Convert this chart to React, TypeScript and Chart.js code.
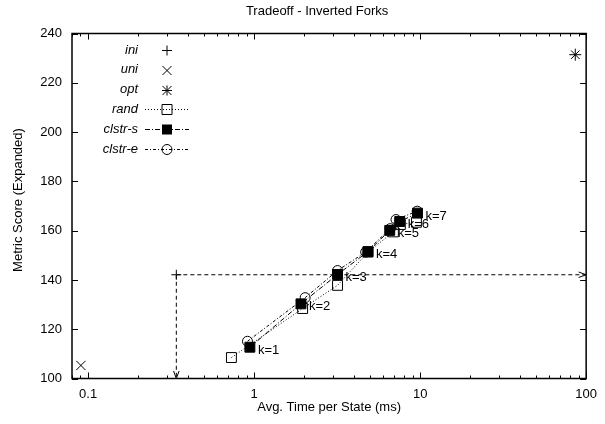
import React, { useEffect, useRef } from 'react';
import { Chart, registerables } from 'chart.js';

Chart.register(...registerables);

const TITLE = 'Tradeoff - Inverted Forks';
const X_TITLE = 'Avg. Time per State (ms)';
const Y_TITLE = 'Metric Score (Expanded)';

const xTickValues = [0.1, 1, 10, 100];
const yTickValues = [100, 120, 140, 160, 180, 200, 220, 240];
const kLabels = ['k=1', 'k=2', 'k=3', 'k=4', 'k=5', 'k=6', 'k=7'];
const seriesNames = ['ini', 'uni', 'opt', 'rand', 'clstr-s', 'clstr-e'];

const iniX = [0.34];
const iniY = [142.1];
const uniX = [0.0905];
const uniY = [105.3];
const optX = [86];
const optY = [231.4];

const randX = [0.73, 1.96, 3.18, 4.85, 6.9, 7.6, 9.5];
const randY = [108.5, 128.4, 137.8, 151.3, 159.5, 162.5, 163.4];
const clstrSX = [0.943, 1.915, 3.18, 4.85, 6.56, 7.53, 9.64];
const clstrSY = [112.7, 130.3, 142.2, 151.5, 160.1, 163.7, 167.1];
const clstrEX = [0.912, 2.03, 3.18, 4.7, 6.6, 7.16, 9.6];
const clstrEY = [115.1, 132.8, 143.8, 151.3, 160.8, 164.5, 167.9];

const FONT = '"Liberation Sans", Arial, Helvetica, sans-serif';
const FS = 13;

const pts = (xs: number[], ys: number[]) => xs.map((v, i) => ({ x: v, y: ys[i] }));

function drawSymbol(ctx: CanvasRenderingContext2D, kind: string, cx: number, cy: number) {
  ctx.beginPath();
  if (kind === 'cross' || kind === 'star') {
    ctx.moveTo(cx - 5, cy); ctx.lineTo(cx + 5, cy);
    ctx.moveTo(cx, cy - 5); ctx.lineTo(cx, cy + 5);
  }
  if (kind === 'crossRot' || kind === 'star') {
    ctx.moveTo(cx - 4.5, cy - 4.5); ctx.lineTo(cx + 4.5, cy + 4.5);
    ctx.moveTo(cx - 4.5, cy + 4.5); ctx.lineTo(cx + 4.5, cy - 4.5);
  }
  if (kind === 'rect' || kind === 'rectFill') {
    if (kind === 'rectFill') ctx.fillRect(cx - 5, cy - 5, 10, 10);
    else ctx.rect(cx - 5, cy - 5, 10, 10);
  }
  if (kind === 'circle') ctx.arc(cx, cy, 5, 0, Math.PI * 2);
  ctx.stroke();
}

const gnuplotPlugin = {
  id: 'gnuplotDecor',
  afterDatasetsDraw(chart: any) {
    const { ctx, chartArea: a, scales } = chart;
    const x = scales.x, y = scales.y;
    ctx.save();
    ctx.strokeStyle = '#000';
    ctx.fillStyle = '#000';
    ctx.lineWidth = 1;

    // arrows from ini point
    const ix = x.getPixelForValue(iniX[0]);
    const iy = y.getPixelForValue(iniY[0]);
    const ex = x.getPixelForValue(x.max);
    const ey = y.getPixelForValue(y.min);
    ctx.setLineDash([4, 3]);
    ctx.beginPath();
    ctx.moveTo(ix, iy); ctx.lineTo(ex, iy);
    ctx.moveTo(ix, iy); ctx.lineTo(ix, ey);
    ctx.stroke();
    ctx.setLineDash([]);
    const head = (tx: number, ty: number, ang: number) => {
      const L = 8, s = 0.35;
      ctx.beginPath();
      ctx.moveTo(tx - L * Math.cos(ang - s), ty - L * Math.sin(ang - s));
      ctx.lineTo(tx, ty);
      ctx.lineTo(tx - L * Math.cos(ang + s), ty - L * Math.sin(ang + s));
      ctx.stroke();
    };
    head(ex, iy, 0);
    head(ix, ey, Math.PI / 2);

    // k labels next to clstr-s points
    ctx.font = `${FS}px ${FONT}`;
    ctx.textAlign = 'left';
    ctx.textBaseline = 'middle';
    kLabels.forEach((t, i) => {
      const px = x.getPixelForValue(clstrSX[i]);
      const py = y.getPixelForValue(clstrSY[i]);
      ctx.fillText(t, px + 8, py + 3);
    });

    // border
    ctx.lineWidth = 1.5;
    ctx.strokeRect(a.left, a.top, a.right - a.left, a.bottom - a.top);
    ctx.lineWidth = 1;

    // x ticks (log, inward, mirrored)
    ctx.beginPath();
    for (let d = -2; d <= 2; d++) {
      for (let m = 1; m <= 9; m++) {
        const v = m * Math.pow(10, d);
        if (v < x.min - 1e-9 || v > x.max + 1e-9) continue;
        const px = Math.round(x.getPixelForValue(v)) + 0.5;
        const len = m === 1 ? 6 : 3;
        ctx.moveTo(px, a.bottom); ctx.lineTo(px, a.bottom - len);
        ctx.moveTo(px, a.top); ctx.lineTo(px, a.top + len);
      }
    }
    yTickValues.forEach((v) => {
      const py = Math.round(y.getPixelForValue(v)) + 0.5;
      ctx.moveTo(a.left, py); ctx.lineTo(a.left + 6, py);
      ctx.moveTo(a.right, py); ctx.lineTo(a.right - 6, py);
    });
    ctx.stroke();

    // legend
    const kinds = ['cross', 'crossRot', 'star', 'rect', 'rectFill', 'circle'];
    const dashes: (number[] | null)[] = [null, null, null, [1, 2], [5, 2, 1, 2], [3, 2, 1, 2]];
    const textRight = 138, lx0 = 145, lx1 = 189, sx = 167, ly0 = 50, step = 19.8;
    seriesNames.forEach((name, i) => {
      const ly = ly0 + i * step;
      ctx.font = `italic ${FS}px ${FONT}`;
      ctx.textAlign = 'right';
      ctx.textBaseline = 'middle';
      ctx.fillText(name, textRight, ly);
      const dsh = dashes[i];
      if (dsh) {
        ctx.setLineDash(dsh);
        ctx.beginPath();
        ctx.moveTo(lx0, Math.round(ly) + 0.5);
        ctx.lineTo(lx1, Math.round(ly) + 0.5);
        ctx.stroke();
        ctx.setLineDash([]);
      }
      drawSymbol(ctx, kinds[i], sx, Math.round(ly) + 0.5);
    });

    // title
    ctx.font = `${FS}px ${FONT}`;
    ctx.textAlign = 'center';
    ctx.textBaseline = 'middle';
    ctx.fillText(TITLE, (a.left + a.right) / 2 - 12, 11);

    // y axis title
    ctx.save();
    ctx.translate(18, (a.top + a.bottom) / 2 - 6);
    ctx.rotate(-Math.PI / 2);
    ctx.fillText(Y_TITLE, 0, 0);
    ctx.restore();

    ctx.restore();
  },
};

export default function App() {
  const ref = useRef<HTMLCanvasElement | null>(null);
  useEffect(() => {
    if (!ref.current) return;
    Chart.defaults.font.family = FONT;
    Chart.defaults.font.size = FS;
    Chart.defaults.color = '#000';
    const common = { borderColor: '#000', borderWidth: 1, pointBorderWidth: 1, pointBorderColor: '#000' };
    const chart = new Chart(ref.current, {
      type: 'scatter',
      data: {
        datasets: [
          { ...common, label: 'ini', data: pts(iniX, iniY), pointStyle: 'cross', pointRadius: 5, showLine: false },
          { ...common, label: 'uni', data: pts(uniX, uniY), pointStyle: 'crossRot', pointRadius: 6.5, showLine: false },
          { ...common, label: 'opt', data: pts(optX, optY), pointStyle: 'star', pointRadius: 6, showLine: false },
          { ...common, label: 'clstr-s', data: pts(clstrSX, clstrSY), pointStyle: 'rect', pointRadius: 7, showLine: true, borderDash: [5, 2, 1, 2], pointBackgroundColor: '#000', backgroundColor: '#000' },
          { ...common, label: 'clstr-e', data: pts(clstrEX, clstrEY), pointStyle: 'circle', pointRadius: 5, showLine: true, borderDash: [3, 2, 1, 2], pointBackgroundColor: 'rgba(0,0,0,0)' },
          { ...common, label: 'rand', data: pts(randX, randY), pointStyle: 'rect', pointRadius: 7, showLine: true, borderDash: [1, 2], pointBackgroundColor: 'rgba(0,0,0,0)' },
        ],
      },
      options: {
        responsive: false,
        animation: false,
        devicePixelRatio: 1,
        layout: { padding: { top: 33.5, right: 15, left: 0, bottom: 0 } },
        plugins: { legend: { display: false }, title: { display: false }, tooltip: { enabled: false } },
        scales: {
          x: {
            type: 'logarithmic',
            min: 0.08,
            max: 100,
            grid: { display: false, drawTicks: false },
            border: { display: false },
            afterBuildTicks: (axis: any) => { axis.ticks = xTickValues.map((v) => ({ value: v })); },
            afterFit: (s: any) => { s.height = 45.5; },
            ticks: { autoSkip: false, maxRotation: 0, padding: 8, callback: (v: any) => String(v), font: { size: FS } },
            title: { display: true, text: X_TITLE, font: { size: FS }, padding: { top: 0, bottom: 9 } },
          },
          y: {
            type: 'linear',
            min: 100,
            max: 240,
            grid: { display: false, drawTicks: false },
            border: { display: false },
            afterBuildTicks: (axis: any) => { axis.ticks = yTickValues.map((v) => ({ value: v })); },
            afterFit: (s: any) => { s.width = 72; },
            ticks: { padding: 10, font: { size: FS }, callback: (v: any) => String(v) },
            title: { display: false },
          },
        },
      },
      plugins: [gnuplotPlugin],
    } as any);
    return () => chart.destroy();
  }, []);
  return (
    <div style={{ position: 'fixed', left: 0, top: 0, width: 605, height: 424, background: '#fff' }}>
      <canvas ref={ref} width={605} height={424} />
    </div>
  );
}
